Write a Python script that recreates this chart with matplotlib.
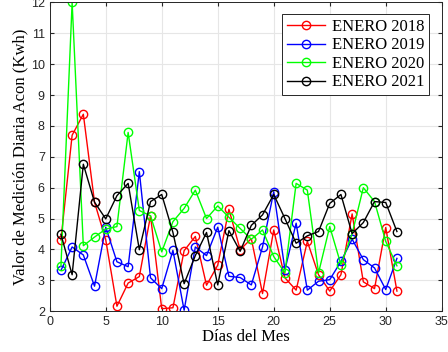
import matplotlib
matplotlib.use("Agg")
import matplotlib.pyplot as plt
import numpy as np

dias = np.arange(1, 32)

enero_2018 = [4.31, 7.7, 8.38, 5.53, 4.31, 2.16, 2.91, 3.12, 5.09, 2.08,
              2.11, 3.96, 4.42, 2.84, 3.49, 5.30, 3.99, 4.35, 2.57, 4.63,
              3.08, 2.68, 4.26, 3.18, 2.65, 3.18, 5.15, 2.95, 2.73, 4.71, 2.65]
enero_2019 = [3.32, 4.08, 3.82, 2.81, 4.72, 3.60, 3.44, 6.52, 3.08, 2.73,
              3.97, 2.03, 4.08, 3.80, 4.72, 3.13, 3.09, 2.85, 4.08, 5.87,
              3.34, 4.85, 2.68, 2.97, 3.02, 3.61, 4.33, 3.67, 3.40, 2.70, 3.71]
enero_2020 = [3.45, 12.0, 4.12, 4.40, 4.66, 4.74, 7.79, 5.26, 5.09, 3.92,
              4.90, 5.33, 5.92, 5.00, 5.41, 5.04, 4.68, 4.33, 4.63, 3.77,
              3.24, 6.14, 5.92, 3.24, 4.74, 3.51, 4.51, 6.00, 5.55, 4.26, 3.47]
enero_2021 = [4.49, 3.18, 6.76, 5.53, 4.99, 5.74, 6.14, 3.99, 5.55, 5.78,
              4.55, 2.89, 3.80, 4.55, 2.85, 4.61, 3.94, 4.78, 5.12, 5.78,
              5.00, 4.20, 4.44, 4.58, 5.49, 5.78, 4.51, 4.87, 5.55, 5.52, 4.58]

series = [("ENERO 2018", enero_2018, "#ff0000"),
          ("ENERO 2019", enero_2019, "#0000ff"),
          ("ENERO 2020", enero_2020, "#00ff00"),
          ("ENERO 2021", enero_2021, "#000000")]

fig = plt.figure(figsize=(4.48, 3.52), dpi=100)
ax = fig.add_axes([0.111, 0.116, 0.875, 0.877])

for nombre, valores, color in series:
    ax.plot(dias, valores, color=color, marker="o", markerfacecolor="none",
            markersize=6, linewidth=1, label=nombre)

ax.set_xlim(0, 35)
ax.set_ylim(2, 12)
ax.set_xticks(range(0, 36, 5))
ax.set_yticks(range(2, 13))
ax.grid(True, color="#e6e6e6", linewidth=0.8)
ax.set_axisbelow(True)
ax.tick_params(direction="in", top=True, right=True, labelsize=9, colors="#262626", length=3)
for lbl in ax.get_xticklabels() + ax.get_yticklabels():
    lbl.set_family("Liberation Sans")
for s in ax.spines.values():
    s.set_color("#262626")
    s.set_linewidth(0.7)

ax.set_xlabel("Días del Mes", family="Liberation Serif", fontsize=12, labelpad=1)
ax.set_ylabel("Valor de Medición Diaria Acon (Kwh)", family="Liberation Serif", fontsize=12, labelpad=2)

leg = ax.legend(loc="upper right", prop={"family": "Liberation Serif", "size": 12},
                fancybox=False, edgecolor="#262626", handlelength=2.3,
                borderpad=0.3, labelspacing=0.15, handletextpad=0.4,
                bbox_to_anchor=(0.99, 0.99), framealpha=1)
leg.get_frame().set_linewidth(0.7)

fig.savefig("out.png", dpi=100)
